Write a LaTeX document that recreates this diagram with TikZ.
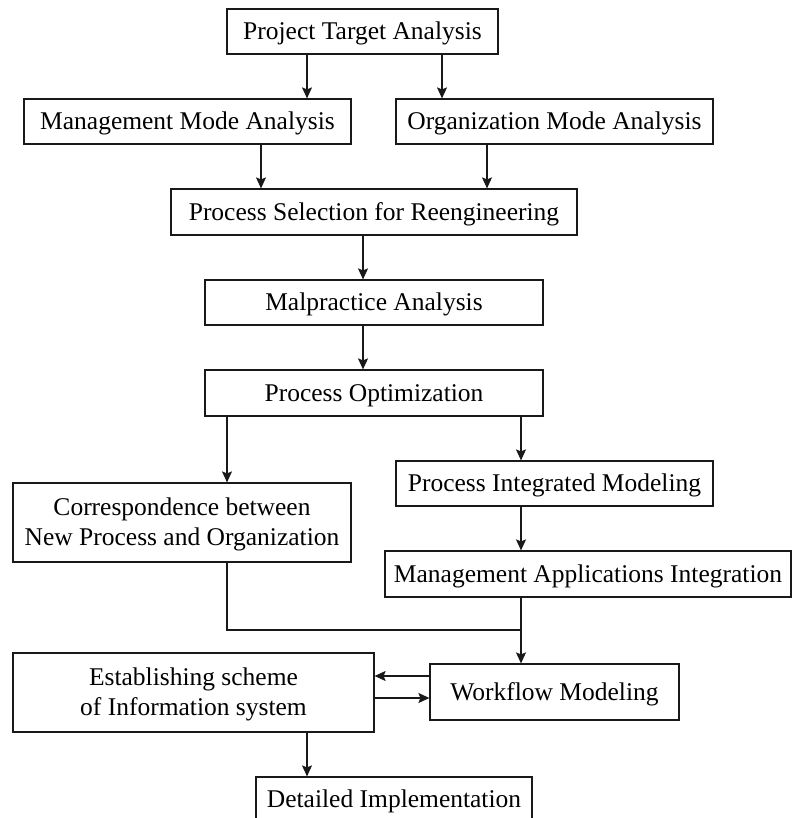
\documentclass[tikz,border=0pt]{standalone}
\usepackage{fontspec}
\setmainfont{Liberation Serif}
\usetikzlibrary{arrows.meta}
\begin{document}
\begin{tikzpicture}[x=1pt,y=-1pt,
  box/.style={draw=black!90,line width=1.2pt,inner sep=0pt,align=center,
    font=\fontsize{25.5}{30}\selectfont,text=black,text height=16.9pt,text depth=0pt},
  box2/.style={box,text height=46.9pt},
  arr/.style={draw=black!90,line width=1.2pt,-{Stealth[length=11pt,width=10pt,inset=2pt]}},
  ln/.style={draw=black!90,line width=1.2pt}]
\useasboundingbox (0,0) rectangle (792,818);
\clip (0,0) rectangle (792,818);
\node[box,minimum width=271pt,minimum height=45pt] (pta) at (362.5,31.5) {Project Target Analysis};
\node[box,minimum width=327pt,minimum height=45pt] (mma) at (187.5,121.5) {Management Mode Analysis};
\node[box,minimum width=317pt,minimum height=45pt] (oma) at (554.5,121.5) {Organization Mode Analysis};
\node[box,minimum width=406pt,minimum height=46pt] (psr) at (374,212) {Process Selection for Reengineering};
\node[box,minimum width=338pt,minimum height=45pt] (ma) at (374,302.5) {Malpractice Analysis};
\node[box,minimum width=338pt,minimum height=46pt] (po) at (374,393) {Process Optimization};
\node[box2,minimum width=338pt,minimum height=79pt] (cor) at (182,522.5) {Correspondence between\\New Process and Organization};
\node[box,minimum width=317pt,minimum height=45pt] (pim) at (554.5,483.5) {Process Integrated Modeling};
\node[box,minimum width=406pt,minimum height=46pt] (mai) at (588,574) {Management Applications Integration};
\node[box,minimum width=249pt,minimum height=56pt] (wm) at (554.5,692) {Workflow Modeling};
\node[box2,minimum width=361pt,minimum height=79pt] (es) at (193.5,692.5) {Establishing scheme\\of Information system};
\node[box,minimum width=276pt,minimum height=45pt] (di) at (394,799.5) {Detailed Implementation};
\coordinate (xa) at (307,0);
\coordinate (xb) at (442,0);
\coordinate (xc) at (261,0);
\coordinate (xd) at (487,0);
\coordinate (xe) at (363,0);
\coordinate (xf) at (227,0);
\coordinate (xg) at (521,0);
\coordinate (ya) at (0,676);
\coordinate (yb) at (0,698);
\coordinate (j) at (521,630);
\draw[arr] (pta.south -| xa) -- (mma.north -| xa);
\draw[arr] (pta.south -| xb) -- (oma.north -| xb);
\draw[arr] (mma.south -| xc) -- (psr.north -| xc);
\draw[arr] (oma.south -| xd) -- (psr.north -| xd);
\draw[arr] (psr.south -| xe) -- (ma.north -| xe);
\draw[arr] (ma.south -| xe) -- (po.north -| xe);
\draw[arr] (po.south -| xf) -- (cor.north -| xf);
\draw[arr] (po.south -| xg) -- (pim.north -| xg);
\draw[arr] (pim.south -| xg) -- (mai.north -| xg);
\draw[ln] (cor.south -| xf) |- (j);
\draw[arr] (mai.south -| xg) -- (wm.north -| xg);
\draw[arr] (wm.west |- ya) -- (es.east |- ya);
\draw[arr] (es.east |- yb) -- (wm.west |- yb);
\draw[arr] (es.south -| xa) -- (di.north -| xa);
\end{tikzpicture}
\end{document}
